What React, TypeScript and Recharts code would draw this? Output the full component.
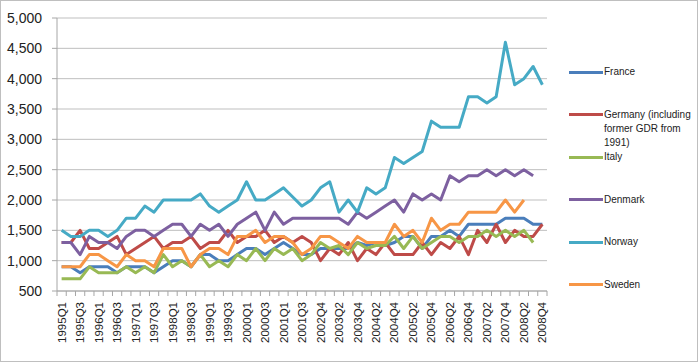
import { CartesianGrid, Line, LineChart, XAxis, YAxis } from 'recharts';

const quarters = [
  '1995Q1', '1995Q2', '1995Q3', '1995Q4', '1996Q1', '1996Q2', '1996Q3', '1996Q4',
  '1997Q1', '1997Q2', '1997Q3', '1997Q4', '1998Q1', '1998Q2', '1998Q3', '1998Q4',
  '1999Q1', '1999Q2', '1999Q3', '1999Q4', '2000Q1', '2000Q2', '2000Q3', '2000Q4',
  '2001Q1', '2001Q2', '2001Q3', '2002Q1', '2002Q4', '2003Q1', '2003Q2', '2003Q3',
  '2003Q4', '2004Q1', '2004Q2', '2004Q3', '2004Q4', '2005Q1', '2005Q2', '2005Q3',
  '2005Q4', '2006Q1', '2006Q2', '2006Q3', '2006Q4', '2007Q1', '2007Q2', '2007Q3',
  '2007Q4', '2008Q1', '2008Q2', '2008Q3', '2008Q4',
];

const france = [
  900, 900, 800, 900, 900, 900, 800, 900, 900, 900,
  800, 900, 1000, 1000, 900, 1100, 1100, 1000, 1000, 1100,
  1200, 1200, 1100, 1200, 1300, 1200, 1100, 1100, 1200, 1200,
  1200, 1200, 1300, 1250, 1300, 1250, 1300, 1400, 1400, 1200,
  1400, 1400, 1500, 1400, 1600, 1600, 1600, 1600, 1700, 1700,
  1700, 1600, 1600,
];

const germany = [
  1300, 1300, 1500, 1200, 1200, 1300, 1400, 1100, 1200, 1300,
  1400, 1200, 1300, 1300, 1400, 1200, 1300, 1300, 1500, 1300,
  1400, 1400, 1500, 1300, 1400, 1300, 1400, 1300, 1000, 1200,
  1100, 1300, 1000, 1200, 1100, 1300, 1100, 1100, 1100, 1300,
  1100, 1300, 1200, 1400, 1100, 1500, 1300, 1600, 1300, 1500,
  1400, 1400, 1600,
];

const italy = [
  700, 700, 700, 900, 800, 800, 800, 900, 800, 900,
  800, 1100, 900, 1000, 900, 1100, 900, 1000, 900, 1100,
  1000, 1200, 1000, 1200, 1100, 1200, 1000, 1100, 1300, 1200,
  1250, 1100, 1300, 1200, 1250, 1250, 1400, 1200, 1400, 1200,
  1300, 1400, 1400, 1300, 1400, 1400, 1500, 1400, 1500, 1400,
  1500, 1300,
];

const denmark = [
  1300, 1300, 1100, 1400, 1300, 1300, 1200, 1400, 1500, 1500,
  1400, 1500, 1600, 1600, 1400, 1600, 1500, 1600, 1400, 1600,
  1700, 1800, 1500, 1800, 1600, 1700, 1700, 1700, 1700, 1700,
  1700, 1600, 1800, 1700, 1800, 1900, 2000, 1800, 2100, 2000,
  2100, 2000, 2400, 2300, 2400, 2400, 2500, 2400, 2500, 2400,
  2500, 2400,
];

const norway = [
  1500, 1400, 1400, 1500, 1500, 1400, 1500, 1700, 1700, 1900,
  1800, 2000, 2000, 2000, 2000, 2100, 1900, 1800, 1900, 2000,
  2300, 2000, 2000, 2100, 2200, 2050, 1900, 2000, 2200, 2300,
  1800, 2000, 1800, 2200, 2100, 2200, 2700, 2600, 2700, 2800,
  3300, 3200, 3200, 3200, 3700, 3700, 3600, 3700, 4600, 3900,
  4000, 4200, 3900,
];

const sweden = [
  900, 900, 900, 1100, 1100, 1000, 900, 1100, 1000, 1000,
  900, 1200, 1200, 1200, 900, 1100, 1200, 1200, 1100, 1400,
  1400, 1500, 1300, 1400, 1400, 1300, 1100, 1200, 1400, 1400,
  1300, 1200, 1400, 1300, 1300, 1300, 1600, 1400, 1500, 1300,
  1700, 1500, 1600, 1600, 1800, 1800, 1800, 1800, 2000, 1800,
  2000,
];

const yTicks = [500, 1000, 1500, 2000, 2500, 3000, 3500, 4000, 4500, 5000];

const series = [
  { key: 'france', name: 'France', color: '#4a7ebb', values: france },
  { key: 'germany', name: 'Germany (including former GDR from 1991)', color: '#be4b48', values: germany },
  { key: 'italy', name: 'Italy', color: '#98b954', values: italy },
  { key: 'denmark', name: 'Denmark', color: '#7d60a0', values: denmark },
  { key: 'norway', name: 'Norway', color: '#46aac5', values: norway },
  { key: 'sweden', name: 'Sweden', color: '#f79646', values: sweden },
];

const data = quarters.map((quarter, i) => {
  const row: Record<string, string | number | undefined> = { quarter };
  series.forEach((s) => {
    row[s.key] = s.values[i];
  });
  return row;
});

const STEP = 490 / quarters.length;

const QuarterTick = (props: any) => {
  const { x, y, payload, index } = props;
  return (
    <g>
      <line x1={x - STEP / 2} x2={x - STEP / 2} y1={y} y2={y + 5} stroke="#a6a6a6" />
      {index === quarters.length - 1 && (
        <line x1={x + STEP / 2} x2={x + STEP / 2} y1={y} y2={y + 5} stroke="#a6a6a6" />
      )}
      {index % 2 === 0 && (
        <text
          transform={`translate(${x},${y + 11}) rotate(-90)`}
          textAnchor="end"
          dy="0.35em"
          fontSize={11.5}
          fill="#222"
        >
          {payload.value}
        </text>
      )}
    </g>
  );
};

const legendTops = [72, 114.5, 157, 199.5, 242, 284.5];

const App = () => {
  return (
    <div
      style={{
        position: 'absolute',
        left: 0,
        top: 0,
        width: 700,
        height: 363,
        fontFamily: '"Liberation Sans", Arial, sans-serif',
        background: '#fff',
      }}
    >
      <div
        style={{
          position: 'absolute',
          left: 0,
          top: 0,
          width: 696,
          height: 360,
          border: '1px solid #bfbfbf',
        }}
      />
      <LineChart
        width={700}
        height={363}
        data={data}
        margin={{ top: 18, right: 153, bottom: 0, left: 0 }}
      >
        <CartesianGrid vertical={false} stroke="#bfbfbf" />
        <XAxis
          dataKey="quarter"
          interval={0}
          padding={{ left: STEP / 2, right: STEP / 2 }}
          axisLine={{ stroke: '#a6a6a6' }}
          tickLine={false}
          tickSize={0}
          tickMargin={0}
          height={72}
          tick={<QuarterTick />}
        />
        <YAxis
          width={57}
          domain={[500, 5000]}
          ticks={yTicks}
          interval={0}
          axisLine={{ stroke: '#a6a6a6' }}
          tickLine={{ stroke: '#a6a6a6' }}
          tickSize={5}
          tickMargin={10}
          tick={{ fontSize: 14, fill: '#222' }}
          tickFormatter={(v: number) => v.toLocaleString('en-US')}
        />
        {series.map((s) => (
          <Line
            key={s.key}
            dataKey={s.key}
            name={s.name}
            stroke={s.color}
            strokeWidth={3}
            strokeLinejoin="round"
            dot={false}
            activeDot={false}
            isAnimationActive={false}
          />
        ))}
      </LineChart>
      {series.map((s, i) => (
        <div
          key={s.key}
          style={{
            position: 'absolute',
            left: 569,
            top: legendTops[i] - 7,
            width: 125,
          }}
        >
          <div
            style={{
              position: 'absolute',
              left: 0,
              top: 5.5,
              width: 34,
              height: 3,
              background: s.color,
            }}
          />
          <div
            style={{
              position: 'absolute',
              left: 35,
              top: 0,
              width: 92,
              fontSize: 10,
              lineHeight: '14px',
              color: '#222',
            }}
          >
            {s.name}
          </div>
        </div>
      ))}
    </div>
  );
};

export default App;
